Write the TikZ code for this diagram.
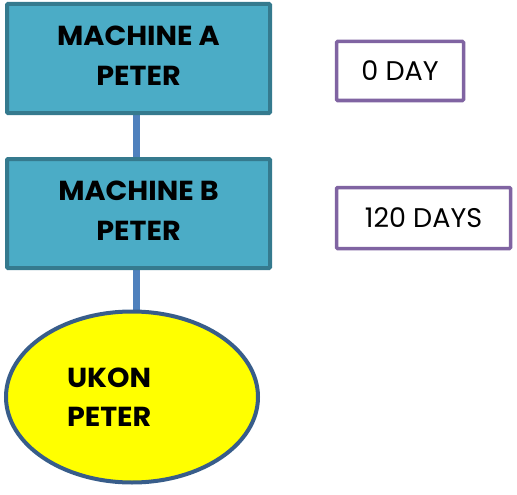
\documentclass[tikz,border=0pt]{standalone}
\usepackage{fontspec}
\setmainfont{Poppins}
\newfontfamily\boldwide[FakeStretch=1.04]{Poppins Bold}
\usetikzlibrary{shapes.geometric,backgrounds,calc}
\definecolor{boxfill}{HTML}{4BACC6}
\definecolor{boxline}{HTML}{357A8E}
\definecolor{conn}{HTML}{4F81BD}
\definecolor{ellline}{HTML}{385D8A}
\definecolor{purp}{HTML}{8064A2}
\definecolor{ukonfill}{RGB}{255,255,0}
\tikzset{
  machine/.style={draw=boxline, fill=boxfill, line width=4pt, rectangle, rounded corners=1pt,
    minimum width=263pt, minimum height=109pt, inner sep=0pt, align=center, text depth=6pt,
    font=\fontsize{27.5}{40}\boldwide},
  daybox/.style={draw=purp, line width=3.5pt, rectangle, rounded corners=1pt, inner sep=0pt,
    font=\fontsize{27}{30}\selectfont},
  link/.style={draw=conn, line width=7pt},
  ukon/.style={ellipse, draw=ellline, fill=ukonfill, line width=4pt, minimum width=252pt,
    minimum height=171pt, inner sep=0pt, text width=130pt, align=left,
    font=\fontsize{27.5}{39}\boldwide}
}
\begin{document}
\begin{tikzpicture}[x=1pt,y=-1pt]
\useasboundingbox (0,0) rectangle (517,495);
\node[machine] (A) at (138.5,58.5) {MACHINE A\\PETER};
\node[machine] (B) at (138.5,213.5) {MACHINE B\\PETER};
\node[ukon] (U) at (132,397) {UKON\\PETER};
\node[daybox, minimum width=127pt, minimum height=59pt] (D0) at (400,71) {0 DAY};
\node[daybox, minimum width=174pt, minimum height=61pt] (D1) at (423.5,218) {120 DAYS};
\begin{scope}[on background layer]
\draw[link] ([xshift=-2pt]A.south) -- ([xshift=-2pt]B.north);
\draw[link] ([xshift=-2pt]B.south) -- ($([xshift=-2pt]B.south |- U.north)+(0,6)$);
\end{scope}
\end{tikzpicture}
\end{document}
